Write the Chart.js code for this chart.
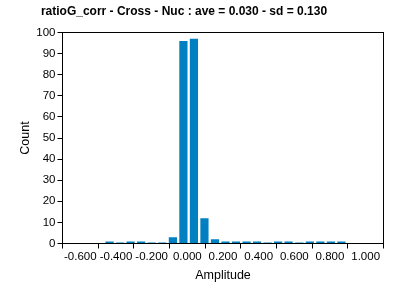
<!DOCTYPE html>
<html>
<head>
<meta charset="utf-8">
<script src="https://cdn.jsdelivr.net/npm/chart.js@4/dist/chart.umd.min.js"></script>
<style>
  html, body { margin: 0; padding: 0; background: #fff; }
  #wrap { width: 408px; height: 287px; }
</style>
</head>
<body>
<div id="wrap"><canvas id="chart" width="408" height="287"></canvas></div>
<script>
// histogram bin centres (Amplitude) and counts
const binCenters = [-0.436, -0.377, -0.318, -0.259, -0.200, -0.141, -0.081, -0.022, 0.037, 0.096, 0.155, 0.214,
  0.273, 0.332, 0.391, 0.450, 0.509, 0.568, 0.628, 0.687, 0.746, 0.805, 0.864]
const counts = [1, 0.5, 1, 1, 0.5, 0.5, 3, 96, 97, 12, 2, 1, 1, 1, 1, 0.5, 1, 1, 0.5, 1, 1, 1, 1]
const titleText = 'ratioG_corr - Cross - Nuc : ave = 0.030 - sd = 0.130'
const xLabel = 'Amplitude'
const yLabel = 'Count'

const FONT = "'Liberation Sans', Arial, sans-serif"

// box around the plot area and the title, drawn by hand
const framePlugin = {
  id: 'frame',
  afterDraw(chart) {
    const { ctx, chartArea } = chart
    ctx.save()
    ctx.strokeStyle = '#000'
    ctx.lineWidth = 1
    ctx.strokeRect(chartArea.left, chartArea.top, chartArea.right - chartArea.left, chartArea.bottom - chartArea.top)
    ctx.fillStyle = '#000'
    ctx.font = 'bold 12px ' + FONT
    ctx.textAlign = 'center'
    ctx.textBaseline = 'middle'
    ctx.fillText(titleText, 184, 12)
    ctx.restore()
  }
}

const points = binCenters.map((x, i) => ({ x: x, y: counts[i] }))

new Chart(document.getElementById('chart'), {
  type: 'bar',
  data: {
    datasets: [{
      data: points,
      backgroundColor: '#0080c0',
      borderWidth: 0,
      categoryPercentage: 1,
      barPercentage: 0.78,
    }],
  },
  options: {
    responsive: false,
    animation: false,
    layout: { padding: { top: 32.5, right: 24.5, left: 0, bottom: 0 } },
    plugins: {
      legend: { display: false },
      tooltip: { enabled: false },
    },
    scales: {
      x: {
        type: 'linear',
        min: -0.6,
        max: 1.0,
        afterFit: (axis) => { axis.height = 43.5 },
        ticks: {
          stepSize: 0.2,
          color: '#000',
          font: { family: FONT, size: 11.5 },
          padding: 1,
          maxRotation: 0,
          callback: (v) => (Math.abs(v) < 1e-9 ? 0 : v).toFixed(3),
        },
        grid: { drawOnChartArea: false, drawTicks: true, tickLength: 5, color: '#000' },
        border: { display: true, color: '#000' },
        title: { display: true, text: xLabel, color: '#000', font: { family: FONT, size: 12.5 }, padding: { top: 0, bottom: 4 } },
      },
      y: {
        min: 0,
        max: 100,
        afterFit: (axis) => { axis.width = 62.5 },
        ticks: {
          stepSize: 10,
          color: '#000',
          font: { family: FONT, size: 11.5 },
          padding: 2,
        },
        grid: { drawOnChartArea: false, drawTicks: true, tickLength: 5, color: '#000' },
        border: { display: true, color: '#000' },
        title: { display: true, text: yLabel, color: '#000', font: { family: FONT, size: 12.5 }, padding: { top: 18, bottom: 0 } },
      },
    },
  },
  plugins: [framePlugin],
})
</script>
</body>
</html>
